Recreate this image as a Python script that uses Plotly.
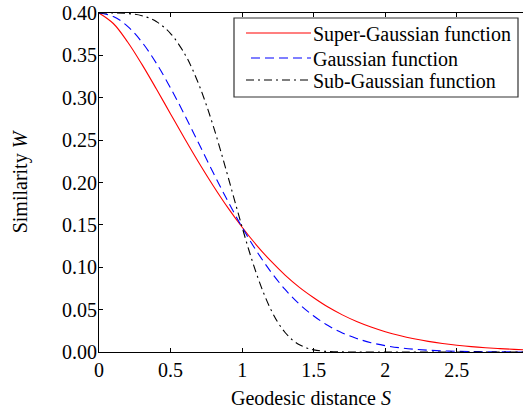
import plotly.graph_objects as go

# Geodesic distance S (x values)
S = [0.0, 0.1, 0.2, 0.3, 0.4, 0.5, 0.6, 0.7, 0.8, 0.9, 1.0, 1.1, 1.2, 1.3, 1.4, 1.5,
     1.6, 1.7, 1.8, 1.9, 2.0, 2.1, 2.2, 2.3, 2.4, 2.5, 2.6, 2.7, 2.8, 2.9, 3.0]

super_gauss = [0.4000, 0.3876, 0.3658, 0.3394, 0.3106, 0.2809, 0.2513, 0.2227, 0.1956, 0.1703,
               0.1472, 0.1262, 0.1074, 0.0908, 0.0763, 0.0640, 0.0530, 0.0438, 0.0360, 0.0295,
               0.0240, 0.0194, 0.0156, 0.0125, 0.0100, 0.0080, 0.0063, 0.0050, 0.0040, 0.0031, 0.0024]

gauss = [0.4000, 0.3960, 0.3843, 0.3656, 0.3408, 0.3115, 0.2791, 0.2450, 0.2109, 0.1780,
         0.1472, 0.1193, 0.0948, 0.0738, 0.0564, 0.0425, 0.0312, 0.0225, 0.0160, 0.0110,
         0.0075, 0.0050, 0.0033, 0.0021, 0.0013, 0.0008, 0.0005, 0.0003, 0.0002, 0.0001, 0.0000]

S_sub = [0.0, 0.1, 0.2, 0.3, 0.4, 0.5, 0.6, 0.65, 0.7, 0.75, 0.8, 0.85, 0.9, 0.95, 1.0,
         1.05, 1.1, 1.15, 1.2, 1.25, 1.3, 1.35, 1.4, 1.45, 1.5, 1.6, 1.7, 1.8, 2.0, 2.5, 3.0]
sub_gauss = [0.4000, 0.4000, 0.3994, 0.3968, 0.3899, 0.3758, 0.3514, 0.3346, 0.3146, 0.2915,
             0.2656, 0.2374, 0.2076, 0.1772, 0.1472, 0.1186, 0.0925, 0.0696, 0.0503, 0.0348,
             0.0230, 0.0144, 0.0086, 0.0048, 0.0025, 0.0006, 0.0001, 0.0, 0.0, 0.0, 0.0]

series_names = ["Super-Gaussian function", "Gaussian function", "Sub-Gaussian function"]
series_colors = ["#ff0000", "#0000ff", "#000000"]
series_dashes = ["solid", "9px,5px", "8px,4px,2px,4px"]

x_ticks = [0, 0.5, 1, 1.5, 2, 2.5, 3]
x_tick_text = ["0", "0.5", "1", "1.5", "2", "2.5", "3"]
y_ticks = [0.0, 0.05, 0.10, 0.15, 0.20, 0.25, 0.30, 0.35, 0.40]
y_tick_text = ["0.00", "0.05", "0.10", "0.15", "0.20", "0.25", "0.30", "0.35", "0.40"]

FONT = "Liberation Serif"
W, H = 523, 409
ML, MR, MT, MB = 99, 0, 13, 57
X_MAX = 2.962
PW, PH = W - ML - MR, H - MT - MB


def px(xp):
    return (xp - ML) / PW


def py(yp):
    return (H - MB - yp) / PH


fig = go.Figure()
for xs, ys, nm, col, dsh in zip([S, S, S_sub], [super_gauss, gauss, sub_gauss],
                                series_names, series_colors, series_dashes):
    fig.add_trace(go.Scatter(x=xs, y=ys, mode="lines", name=nm, showlegend=False,
                             line=dict(color=col, width=1.1, dash=dsh, shape="spline")))

# legend box (drawn manually to match the reference's compact layout)
shapes = [dict(type="rect", xref="paper", yref="paper", x0=px(234), x1=px(518), y0=py(97), y1=py(18),
               line=dict(color="#333333", width=1.2), fillcolor="white", layer="above")]
annotations = []
row_y = [33, 58, 80]
sample_x0 = [246, 251, 246]
for i, (nm, col, dsh) in enumerate(zip(series_names, series_colors, series_dashes)):
    shapes.append(dict(type="line", xref="paper", yref="paper", x0=px(sample_x0[i]), x1=px(311),
                       y0=py(row_y[i]), y1=py(row_y[i]), layer="above",
                       line=dict(color=col, width=1.1, dash=dsh)))
    annotations.append(dict(text=nm, xref="paper", yref="paper", x=px(311), y=py(row_y[i] + 1),
                            xanchor="left", yanchor="middle", showarrow=False,
                            font=dict(family=FONT, size=20, color="black")))

# tick label "3" partly cut off at the right edge, as in the reference
annotations.append(dict(text="3", xref="paper", yref="paper", x=3 / X_MAX, y=0, xanchor="center",
                        yanchor="top", yshift=-3, showarrow=False,
                        font=dict(family=FONT, size=20, color="black")))

fig.update_layout(
    width=W, height=H,
    margin=dict(l=ML, r=MR, t=MT, b=MB, autoexpand=False),
    paper_bgcolor="white", plot_bgcolor="white",
    font=dict(family=FONT, size=20, color="black"),
    showlegend=False,
    shapes=shapes, annotations=annotations,
    xaxis=dict(range=[0, X_MAX], tickmode="array", tickvals=x_ticks, ticktext=x_tick_text,
               ticks="inside", ticklen=4, tickcolor="black", showline=True, linecolor="black",
               linewidth=1, mirror="ticks", showgrid=False, zeroline=False, automargin=False,
               tickfont=dict(family=FONT, size=20, color="black"),
               title=dict(text="Geodesic distance <i>S</i>", font=dict(family=FONT, size=20), standoff=20)),
    yaxis=dict(range=[0, 0.40], tickmode="array", tickvals=y_ticks, ticktext=y_tick_text,
               ticks="inside", ticklen=4, tickcolor="black", showline=True, linecolor="black",
               linewidth=1, mirror=False, showgrid=False, zeroline=False, ticklabelstandoff=-3,
               automargin=False,
               tickfont=dict(family=FONT, size=20, color="black"),
               title=dict(text="Similarity <i>W</i>", font=dict(family=FONT, size=20), standoff=29)),
)

fig.write_html("out.html")
